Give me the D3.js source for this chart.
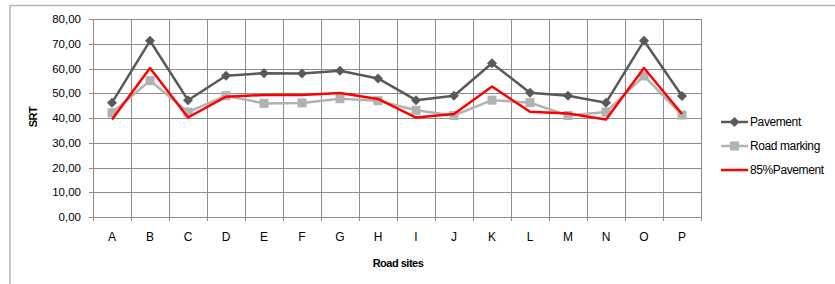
<!DOCTYPE html>
<html><head><meta charset="utf-8">
<script src="https://cdn.jsdelivr.net/npm/d3@7"></script>
<style>body{margin:0;background:#fff}svg{display:block;font-family:"Liberation Sans",Arial,sans-serif}</style>
</head><body>
<svg id="c" width="835" height="284"></svg>
<script>
const categories = ["A","B","C","D","E","F","G","H","I","J","K","L","M","N","O","P"];
const pavement = [46.2,71.2,47.2,57.1,58.1,58.0,59.1,56.0,47.2,49.0,62.1,50.2,49.0,46.2,71.2,48.9];
const roadMarking = [42.1,55.1,42.4,49.0,45.9,46.1,47.8,47.0,43.1,41.0,47.2,46.2,41.0,42.4,57.0,41.2];
const pavement85 = [39.4,60.2,40.2,48.6,49.3,49.3,50.1,47.7,40.2,41.6,52.7,42.5,41.8,39.4,60.2,41.6];
const yTicks = [0,10,20,30,40,50,60,70,80];
const seriesNames = ["Pavement","Road marking","85%Pavement"];

const svg = d3.select("#c");
const L = 93, R = 701, T = 19, B = 217;

// outer chart border (top and left visible)
svg.append("line").attr("x1",10).attr("x2",835).attr("y1",5.5).attr("y2",5.5).attr("stroke","#b4b4b4").attr("stroke-width",1.5);
svg.append("line").attr("x1",10).attr("x2",10).attr("y1",5).attr("y2",284).attr("stroke","#b4b4b4").attr("stroke-width",1.5);

const x = d3.scaleBand().domain(categories).range([L,R]);
const y = d3.scaleLinear().domain([0,80]).range([B,T]);
const cx = d => x(d) + x.bandwidth()/2;

const grid = "#8c8c8c";
svg.append("g").selectAll("line").data(yTicks).join("line")
  .attr("x1",L).attr("x2",R).attr("y1",d=>Math.round(y(d))+0.5).attr("y2",d=>Math.round(y(d))+0.5)
  .attr("stroke",grid).attr("stroke-width",1);
const bounds = categories.map(c=>x(c)).concat([R]);
svg.append("g").selectAll("line").data(bounds).join("line")
  .attr("x1",d=>Math.round(d)+0.5).attr("x2",d=>Math.round(d)+0.5).attr("y1",T).attr("y2",B+4)
  .attr("stroke",grid).attr("stroke-width",1);
svg.append("g").selectAll("line").data(yTicks).join("line")
  .attr("x1",L-4).attr("x2",L).attr("y1",d=>Math.round(y(d))+0.5).attr("y2",d=>Math.round(y(d))+0.5)
  .attr("stroke",grid);

const yAxis = d3.axisLeft(y).tickValues(yTicks).tickSize(0).tickPadding(12)
  .tickFormat(d => d3.format(".2f")(d).replace(".", ","));
const ga = svg.append("g").attr("transform",`translate(${L},0)`).call(yAxis);
ga.select(".domain").remove();
ga.selectAll("text").attr("font-size",11.5).attr("fill","#000").attr("font-family","Liberation Sans, Arial, sans-serif");

const xAxis = d3.axisBottom(x).tickSize(0).tickPadding(15);
const gx = svg.append("g").attr("transform",`translate(0,${B})`).call(xAxis);
gx.select(".domain").remove();
gx.selectAll("text").attr("font-size",12).attr("fill","#000").attr("font-family","Liberation Sans, Arial, sans-serif");

svg.append("text").attr("x",398).attr("y",267).attr("text-anchor","middle")
  .attr("font-size",11).attr("font-weight","bold").attr("letter-spacing","-0.5").text("Road sites");
svg.append("text").attr("transform","translate(37,117) rotate(-90)").attr("text-anchor","middle")
  .attr("font-size",11).attr("font-weight","bold").attr("letter-spacing","-0.5").text("SRT");

const line = d3.line().x((d,i)=>cx(categories[i])).y(d=>y(d));
const cols = ["#595959","#b2b2b2","#ff0000"];

svg.append("path").datum(roadMarking).attr("d",line).attr("fill","none").attr("stroke",cols[1]).attr("stroke-width",2.5).attr("stroke-linejoin","round");
svg.append("g").selectAll("rect").data(roadMarking).join("rect")
  .attr("x",(d,i)=>cx(categories[i])-4.5).attr("y",d=>y(d)-4.5).attr("width",9).attr("height",9).attr("fill",cols[1]);
svg.append("path").datum(pavement).attr("d",line).attr("fill","none").attr("stroke",cols[0]).attr("stroke-width",2.5).attr("stroke-linejoin","round");
const diamond = d3.symbol().type(d3.symbolDiamond2).size(64);
svg.append("g").selectAll("path").data(pavement).join("path")
  .attr("transform",(d,i)=>`translate(${cx(categories[i])},${y(d)})`).attr("d",diamond()).attr("fill",cols[0]);
svg.append("path").datum(pavement85).attr("d",line).attr("fill","none").attr("stroke",cols[2]).attr("stroke-width",2.5).attr("stroke-linejoin","round");

const ly = [122,146,170];
const lg = svg.append("g");
seriesNames.forEach((n,i)=>{
  lg.append("line").attr("x1",721).attr("x2",748).attr("y1",ly[i]).attr("y2",ly[i]).attr("stroke",cols[i]).attr("stroke-width",2.5);
  if(i===0) lg.append("path").attr("transform",`translate(734.5,${ly[i]})`).attr("d",diamond()).attr("fill",cols[0]);
  if(i===1) lg.append("rect").attr("x",730).attr("y",ly[i]-4.5).attr("width",9).attr("height",9).attr("fill",cols[1]);
  lg.append("text").attr("x",750).attr("y",ly[i]+4).attr("font-size",12).attr("letter-spacing","-0.4").text(n);
});
</script>
</body></html>
